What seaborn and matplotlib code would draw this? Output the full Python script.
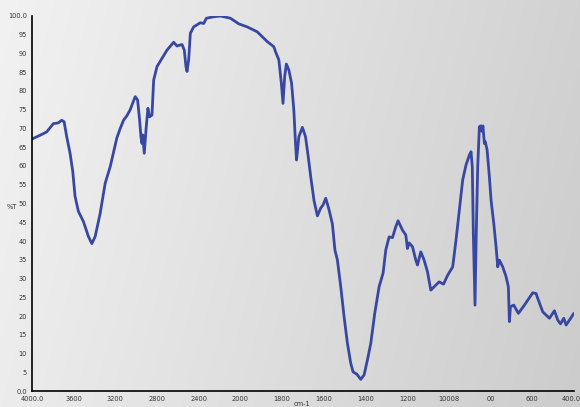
import numpy as np
import pandas as pd
import seaborn as sns
import matplotlib.pyplot as plt
from matplotlib.transforms import ScaledTranslation

# FTIR spectrum
wavenumber = [4000, 3923, 3859, 3795, 3747, 3715, 3692, 3667, 3635, 3609, 3587, 3555,
              3507, 3459, 3426, 3394, 3346, 3298, 3250, 3186, 3154, 3122, 3090, 3058,
              3030, 3010, 2987, 2968, 2955, 2945, 2938, 2923, 2904, 2888, 2872, 2849,
              2833, 2801, 2753, 2705, 2641, 2609, 2561, 2539, 2523, 2513, 2497, 2481,
              2449, 2385, 2353, 2327, 2256, 2192, 2096, 2016, 1968, 1920, 1872, 1840,
              1832, 1816, 1804, 1796, 1788, 1780, 1768, 1755, 1744, 1736, 1731, 1720,
              1703, 1688, 1675, 1663, 1647, 1631, 1615, 1604, 1591, 1575, 1559, 1547,
              1535, 1519, 1503, 1487, 1471, 1460, 1442, 1423, 1407, 1391, 1375, 1356,
              1335, 1316, 1303, 1287, 1271, 1255, 1244, 1223, 1207, 1199, 1191, 1175,
              1159, 1151, 1135, 1119, 1103, 1087, 1071, 1047, 1026, 1006, 982, 966,
              950, 934, 918, 902, 894, 888, 883, 875, 869, 862, 854, 846,
              841, 837, 830, 826, 817, 806, 798, 785, 774, 766, 758, 742,
              726, 715, 710, 705, 689, 667, 638, 598, 582, 574, 550, 518,
              494, 478, 465, 449, 438, 422, 401]
transmittance = [67.2, 68.2, 69.1, 71.3, 71.5, 72.2, 71.8, 67.8, 63.4, 58.5, 51.9, 47.9,
                 45.2, 41.2, 39.3, 41.2, 47.4, 55.4, 59.8, 67.5, 70.0, 72.2, 73.4, 75.0,
                 77.0, 78.5, 77.6, 72.3, 67.8, 66.0, 68.3, 63.4, 70.5, 75.4, 73.1, 73.6,
                 82.9, 86.5, 88.7, 90.9, 93.0, 92.0, 92.4, 90.9, 86.5, 85.2, 88.3, 95.4,
                 97.1, 98.2, 98.0, 99.4, 99.8, 100.0, 99.4, 97.9, 97.1, 95.8, 93.2, 91.8,
                 90.5, 88.3, 82.1, 76.7, 83.8, 87.2, 85.6, 82.1, 74.9, 66.0, 61.6, 67.8,
                 70.3, 67.8, 62.5, 57.1, 50.7, 46.7, 48.8, 49.6, 51.4, 48.3, 44.5, 37.6,
                 34.9, 27.8, 19.8, 12.7, 7.4, 5.1, 4.5, 3.1, 4.3, 8.3, 12.7, 20.7,
                 27.8, 31.4, 37.6, 41.1, 40.9, 43.8, 45.4, 42.9, 41.6, 38.0, 39.5, 38.5,
                 34.9, 33.6, 37.1, 34.9, 31.8, 26.9, 27.8, 29.1, 28.5, 30.9, 33.1, 40.3,
                 48.3, 56.3, 60.3, 62.9, 63.8, 59.8, 42.0, 22.9, 42.0, 59.8, 70.5, 70.7,
                 69.2, 70.7, 66.0, 66.5, 64.3, 57.1, 50.9, 44.7, 38.5, 33.1, 34.9, 33.1,
                 30.5, 27.8, 18.5, 22.5, 22.9, 20.7, 22.9, 26.2, 26.0, 24.7, 21.1, 19.4,
                 21.4, 18.9, 17.9, 19.4, 17.6, 18.9, 20.7]

x_ticks = [4000, 3600, 3200, 2800, 2400, 2000, 1800, 1600, 1400, 1200, 1000, 800, 600, 400]
x_tick_labels = ['4000.0', '3600', '3200', '2800', '2400', '2000', '1800', '1600',
                 '1400', '1200', '10008', '00', '600', '400.0']
y_ticks = list(range(0, 101, 5))
y_tick_labels = ['0.0'] + [str(v) for v in y_ticks[1:-1]] + ['100.0']

df = pd.DataFrame({'cm-1': wavenumber, '%T': transmittance})


def fwd(x):
    # below 2000 cm-1 the axis is stretched two times
    x = np.asarray(x, dtype=float)
    return np.where(x >= 2000, x, 2 * x - 2000)


def inv(u):
    u = np.asarray(u, dtype=float)
    return np.where(u >= 2000, u, (u + 2000) / 2)


sns.set_style('white')
plt.rcParams['font.family'] = ['DejaVu Sans']

fig = plt.figure(figsize=(5.8, 4.07), dpi=100)

# grey gradient background over the whole figure (light lower left, darker upper right)
bg = fig.add_axes([0, 0, 1, 1], zorder=0)
gx, gy = np.meshgrid(np.linspace(0, 1, 300), np.linspace(0, 1, 200))
shade = (242 - 32 * gx - 6 * gy) / 255
bg.imshow(np.dstack([shade, shade, shade]), interpolation='bilinear',
          aspect='auto', extent=[0, 1, 0, 1])
bg.axis('off')

ax = fig.add_axes([0.0552, 0.0393, 0.9345, 0.9214], zorder=1)
ax.set_facecolor('none')
ax.set_xscale('function', functions=(fwd, inv))

sns.lineplot(data=df, x='cm-1', y='%T', sort=False, color='#3848a2',
             linewidth=2.0, ax=ax)

ax.set_xlim(4000, 400)
ax.set_ylim(0, 100)
ax.set_xticks(x_ticks)
ax.set_xticklabels(x_tick_labels)
ax.set_yticks(y_ticks)
ax.set_yticklabels(y_tick_labels)
ax.minorticks_off()
ax.tick_params(axis='both', direction='out', length=2, width=0.8, pad=1.5,
               labelsize=4.8, colors='black', labelcolor='#333333')
ax.set_xlabel('')
ax.set_ylabel('')
for side in ['top', 'right']:
    ax.spines[side].set_visible(False)
for side in ['left', 'bottom']:
    ax.spines[side].set_color('black')
    ax.spines[side].set_linewidth(1.2)

# keep the last tick label inside the picture
last = ax.get_xticklabels()[-1]
last.set_transform(last.get_transform() + ScaledTranslation(-2 / 72, 0, fig.dpi_scale_trans))

fig.text(12 / 580, 1 - 207 / 407, '%T', fontsize=4.8, color='#333333',
         ha='center', va='center')
fig.text(302 / 580, 1 - 404 / 407, 'cm-1', fontsize=4.8, color='#333333',
         ha='center', va='center')

fig.savefig('out.png', dpi=100)
